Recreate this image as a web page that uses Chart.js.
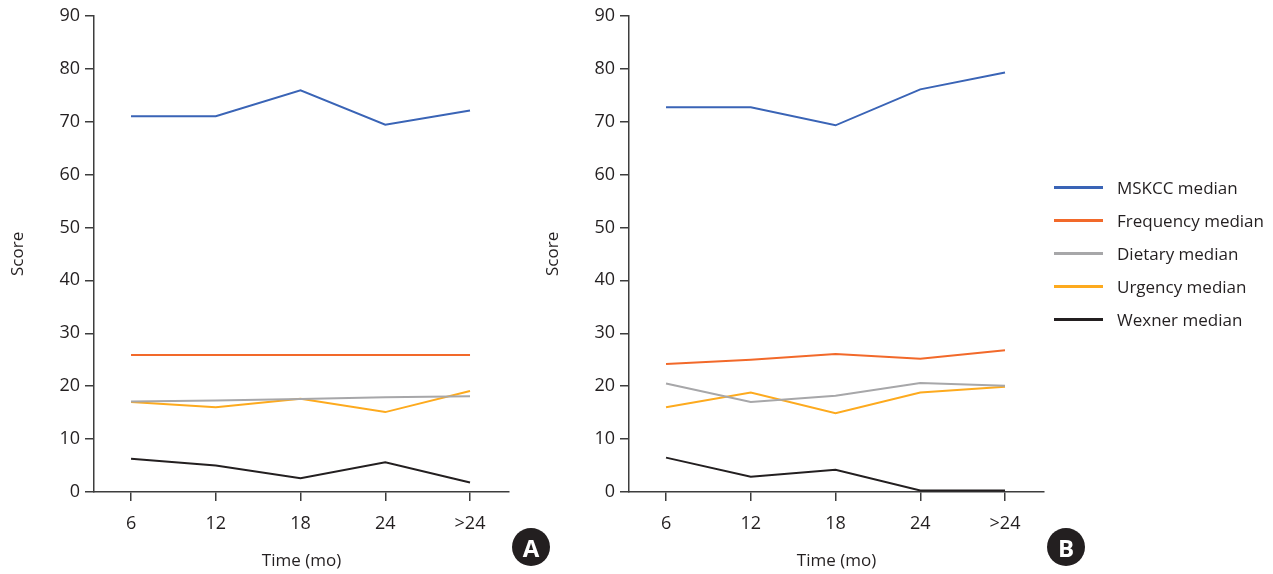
<!DOCTYPE html>
<html>
<head>
<meta charset="utf-8">
<script src="https://cdn.jsdelivr.net/npm/chart.js@4/dist/chart.umd.min.js"></script>
<style>
  html, body { margin: 0; padding: 0; background: #fff; }
  body { width: 1273px; height: 574px; position: relative; overflow: hidden; font-family: "Open Sans", sans-serif; color: #231f20; }
  canvas { position: absolute; top: 0; }
  #cA { left: 0; }
  #cB { left: 535px; }
  .badge { position: absolute; width: 38px; height: 38px; border-radius: 50%; background: #231f20; color: #fff;
           font: bold 24px "Open Sans", sans-serif; display: flex; align-items: center; justify-content: center; top: 528px; }
  #legend { position: absolute; left: 1054px; top: 171px; }
  .row { height: 33px; display: flex; align-items: center; position: relative; }
  .sw { width: 49px; height: 3px; margin-right: 14px; }
  .lbl { font-size: 17px; white-space: nowrap; }
</style>
</head>
<body>
<canvas id="cA" width="540" height="574"></canvas>
<canvas id="cB" width="540" height="574"></canvas>
<div class="badge" style="left:512px">A</div>
<div class="badge" style="left:1047px">B</div>
<div id="legend"></div>
<script>
const categories = ["6", "12", "18", "24", ">24"];
const seriesNames = ["MSKCC median", "Frequency median", "Dietary median", "Urgency median", "Wexner median"];
const seriesColors = ["#3a64b6", "#f2692a", "#a7a7a9", "#fdaa1e", "#231f20"];
const yTicks = [0, 10, 20, 30, 40, 50, 60, 70, 80, 90];

// Panel A
const aMskcc     = [71.0, 71.0, 75.9, 69.4, 72.1];
const aFrequency = [25.9, 25.9, 25.9, 25.9, 25.9];
const aDietary   = [17.1, 17.3, 17.6, 17.9, 18.1];
const aUrgency   = [17.0, 16.0, 17.6, 15.1, 19.1];
const aWexner    = [6.3, 5.0, 2.6, 5.6, 1.8];

// Panel B
const bMskcc     = [72.7, 72.7, 69.3, 76.1, 79.3];
const bFrequency = [24.2, 25.0, 26.1, 25.2, 26.8];
const bDietary   = [20.5, 17.0, 18.2, 20.6, 20.1];
const bUrgency   = [16.0, 18.8, 14.9, 18.8, 19.9];
const bWexner    = [6.5, 2.9, 4.2, 0.3, 0.3];

const FONT = "'Open Sans', sans-serif";
const AXIS = "#3d3d3d";

function makeChart(id, seriesList) {
  const datasets = seriesList.map((vals, i) => ({
    label: seriesNames[i],
    data: vals.map((v, j) => ({ x: j, y: v })),
    borderColor: seriesColors[i],
    backgroundColor: seriesColors[i],
    borderWidth: 2,
    pointRadius: 0,
    tension: 0,
    fill: false
  }));
  return new Chart(document.getElementById(id), {
    type: "line",
    data: { datasets },
    options: {
      responsive: false,
      animation: false,
      devicePixelRatio: 1,
      layout: { padding: { top: 14, right: 31, bottom: 0, left: 0 } },
      plugins: { legend: { display: false }, tooltip: { enabled: false } },
      scales: {
        x: {
          type: "linear",
          min: -0.437,
          max: 4.46,
          afterBuildTicks: (s) => { s.ticks = categories.map((c, i) => ({ value: i })); },
          afterFit: (s) => { s.height = 82; },
          grid: { drawOnChartArea: false, drawTicks: true, tickLength: 9, color: AXIS, lineWidth: 1.5 },
          border: { display: true, color: AXIS, width: 1.5 },
          ticks: { callback: (v) => categories[v], color: "#231f20", font: { family: FONT, size: 18 }, padding: 12, maxRotation: 0, autoSkip: false },
          title: { display: true, text: "Time (mo)", color: "#231f20", font: { family: FONT, size: 17 }, padding: { top: 0, bottom: 3 } }
        },
        y: {
          min: 0,
          max: 90,
          afterBuildTicks: (s) => { s.ticks = yTicks.map(v => ({ value: v })); },
          afterFit: (s) => { s.width = 94; },
          grid: { drawOnChartArea: false, drawTicks: true, tickLength: 9, color: AXIS, lineWidth: 1.5 },
          border: { display: true, color: AXIS, width: 1.5 },
          ticks: { color: "#231f20", font: { family: FONT, size: 18 }, padding: 5 },
          title: { display: true, text: "Score", color: "#231f20", font: { family: FONT, size: 17 }, padding: { top: 8, bottom: 0 } }
        }
      }
    }
  });
}

makeChart("cA", [aMskcc, aFrequency, aDietary, aUrgency, aWexner]);
makeChart("cB", [bMskcc, bFrequency, bDietary, bUrgency, bWexner]);

const legend = document.getElementById("legend");
seriesNames.forEach((n, i) => {
  const row = document.createElement("div");
  row.className = "row";
  row.innerHTML = '<div class="sw" style="background:' + seriesColors[i] + '"></div><div class="lbl">' + n + '</div>';
  legend.appendChild(row);
});
</script>
</body>
</html>
